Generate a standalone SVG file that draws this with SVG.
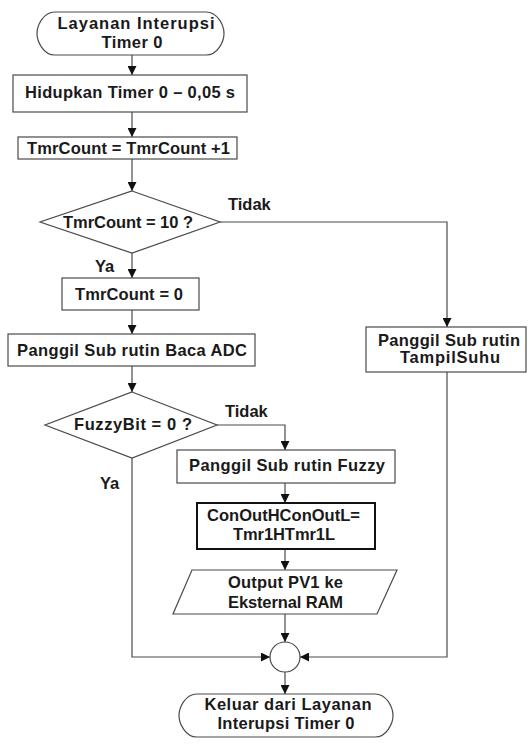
<svg xmlns="http://www.w3.org/2000/svg" width="528" height="747" viewBox="0 0 528 747">
  <style>
    .shape { fill: #ffffff; stroke: #4a4a4a; stroke-width: 1.2; }
    .heavy { fill: #ffffff; stroke: #111111; stroke-width: 2; }
    .wire { fill: none; stroke: #4a4a4a; stroke-width: 1.2; }
    .arrow { marker-end: url(#head); }
    text { font-family: "Liberation Sans", Arial, sans-serif; font-weight: bold; font-size: 16.5px; fill: #1a1a1a; }
    .c { text-anchor: middle; }
  </style>
  <defs>
    <marker id="head" markerUnits="userSpaceOnUse" markerWidth="9" markerHeight="9" refX="9" refY="4.5" orient="auto">
      <path d="M0,0 L9,4.5 L0,9 Z" fill="#111111"/>
    </marker>
  </defs>

  <rect x="0" y="0" width="528" height="747" fill="#ffffff"/>

  <!-- connectors -->
  <g id="connectors">
    <line class="wire arrow" x1="132" y1="55" x2="132" y2="75"/>
    <line class="wire arrow" x1="132" y1="112" x2="132" y2="137"/>
    <line class="wire arrow" x1="132" y1="159" x2="132" y2="191"/>
    <line class="wire arrow" x1="132" y1="253" x2="132" y2="278"/>
    <line class="wire arrow" x1="132" y1="310" x2="132" y2="334"/>
    <line class="wire arrow" x1="132" y1="366" x2="132" y2="392"/>
    <polyline class="wire arrow" points="220,222 447,222 447,327"/>
    <polyline class="wire arrow" points="217,425 285,425 285,450"/>
    <line class="wire arrow" x1="285" y1="483" x2="285" y2="503"/>
    <line class="wire arrow" x1="285" y1="549" x2="285" y2="570"/>
    <line class="wire arrow" x1="285" y1="614" x2="285" y2="642"/>
    <polyline class="wire arrow" points="132,458 132,657 270,657"/>
    <polyline class="wire arrow" points="447,372 447,657 300,657"/>
    <line class="wire arrow" x1="285" y1="672" x2="285" y2="694"/>
  </g>

  <!-- nodes -->
  <g id="start">
    <path class="shape" d="M55,12 H206 C218,12 224,26 224,33.5 C224,41 218,55 206,55 H55 C43,55 37,41 37,33.5 C37,26 43,12 55,12 Z"/>
    <text class="c" x="136" y="29" textLength="157" lengthAdjust="spacing">Layanan Interupsi</text>
    <text class="c" x="132" y="48" textLength="61" lengthAdjust="spacing">Timer 0</text>
  </g>

  <g id="start-timer">
    <rect class="shape" x="13" y="75" width="234" height="37"/>
    <text class="c" x="130" y="98" textLength="210" lengthAdjust="spacing">Hidupkan Timer 0 – 0,05 s</text>
  </g>

  <g id="increment">
    <rect class="shape" x="18" y="137" width="219" height="22"/>
    <text class="c" x="128.5" y="154" textLength="203" lengthAdjust="spacing">TmrCount = TmrCount +1</text>
  </g>

  <g id="check-count">
    <polygon class="shape" points="132,191 220,222 132,253 40,222"/>
    <text class="c" x="128" y="228" textLength="130" lengthAdjust="spacing">TmrCount = 10 ?</text>
    <text x="228" y="210">Tidak</text>
    <text x="95" y="272">Ya</text>
  </g>

  <g id="reset-count">
    <rect class="shape" x="62" y="278" width="137" height="32"/>
    <text class="c" x="129" y="300" textLength="108" lengthAdjust="spacing">TmrCount = 0</text>
  </g>

  <g id="read-adc">
    <rect class="shape" x="8" y="334" width="247" height="32"/>
    <text class="c" x="132" y="356" textLength="230" lengthAdjust="spacing">Panggil Sub rutin Baca ADC</text>
  </g>

  <g id="show-temp">
    <rect class="shape" x="366" y="327" width="160" height="45"/>
    <text class="c" x="449" y="346" textLength="142" lengthAdjust="spacing">Panggil Sub rutin</text>
    <text class="c" x="450" y="363" textLength="100" lengthAdjust="spacing">TampilSuhu</text>
  </g>

  <g id="check-fuzzy">
    <polygon class="shape" points="132,392 217,425 132,458 45,425"/>
    <text class="c" x="133" y="430" textLength="118" lengthAdjust="spacing">FuzzyBit = 0 ?</text>
    <text x="225" y="417">Tidak</text>
    <text x="100" y="489">Ya</text>
  </g>

  <g id="fuzzy">
    <rect class="shape" x="177" y="450" width="218" height="33"/>
    <text class="c" x="287" y="471" textLength="196" lengthAdjust="spacing">Panggil Sub rutin Fuzzy</text>
  </g>

  <g id="con-out">
    <rect class="heavy" x="197" y="503" width="178" height="46"/>
    <text class="c" x="283.5" y="521" textLength="153" lengthAdjust="spacing">ConOutHConOutL=</text>
    <text class="c" x="284" y="540" textLength="102" lengthAdjust="spacing">Tmr1HTmr1L</text>
  </g>

  <g id="output">
    <polygon class="shape" points="192,570 397,570 377,614 173,614"/>
    <text class="c" x="285.5" y="588" textLength="115" lengthAdjust="spacing">Output PV1 ke</text>
    <text class="c" x="285.5" y="608" textLength="115" lengthAdjust="spacing">Eksternal RAM</text>
  </g>

  <g id="merge">
    <circle class="shape" cx="285" cy="657" r="15"/>
  </g>

  <g id="end">
    <path class="shape" d="M197,694 H375 C387,694 393,708 393,715.5 C393,723 387,737 375,737 H197 C185,737 179,723 179,715.5 C179,708 185,694 197,694 Z"/>
    <text class="c" x="288" y="710" textLength="167" lengthAdjust="spacing">Keluar dari Layanan</text>
    <text class="c" x="286" y="729" textLength="137" lengthAdjust="spacing">Interupsi Timer 0</text>
  </g>
</svg>
